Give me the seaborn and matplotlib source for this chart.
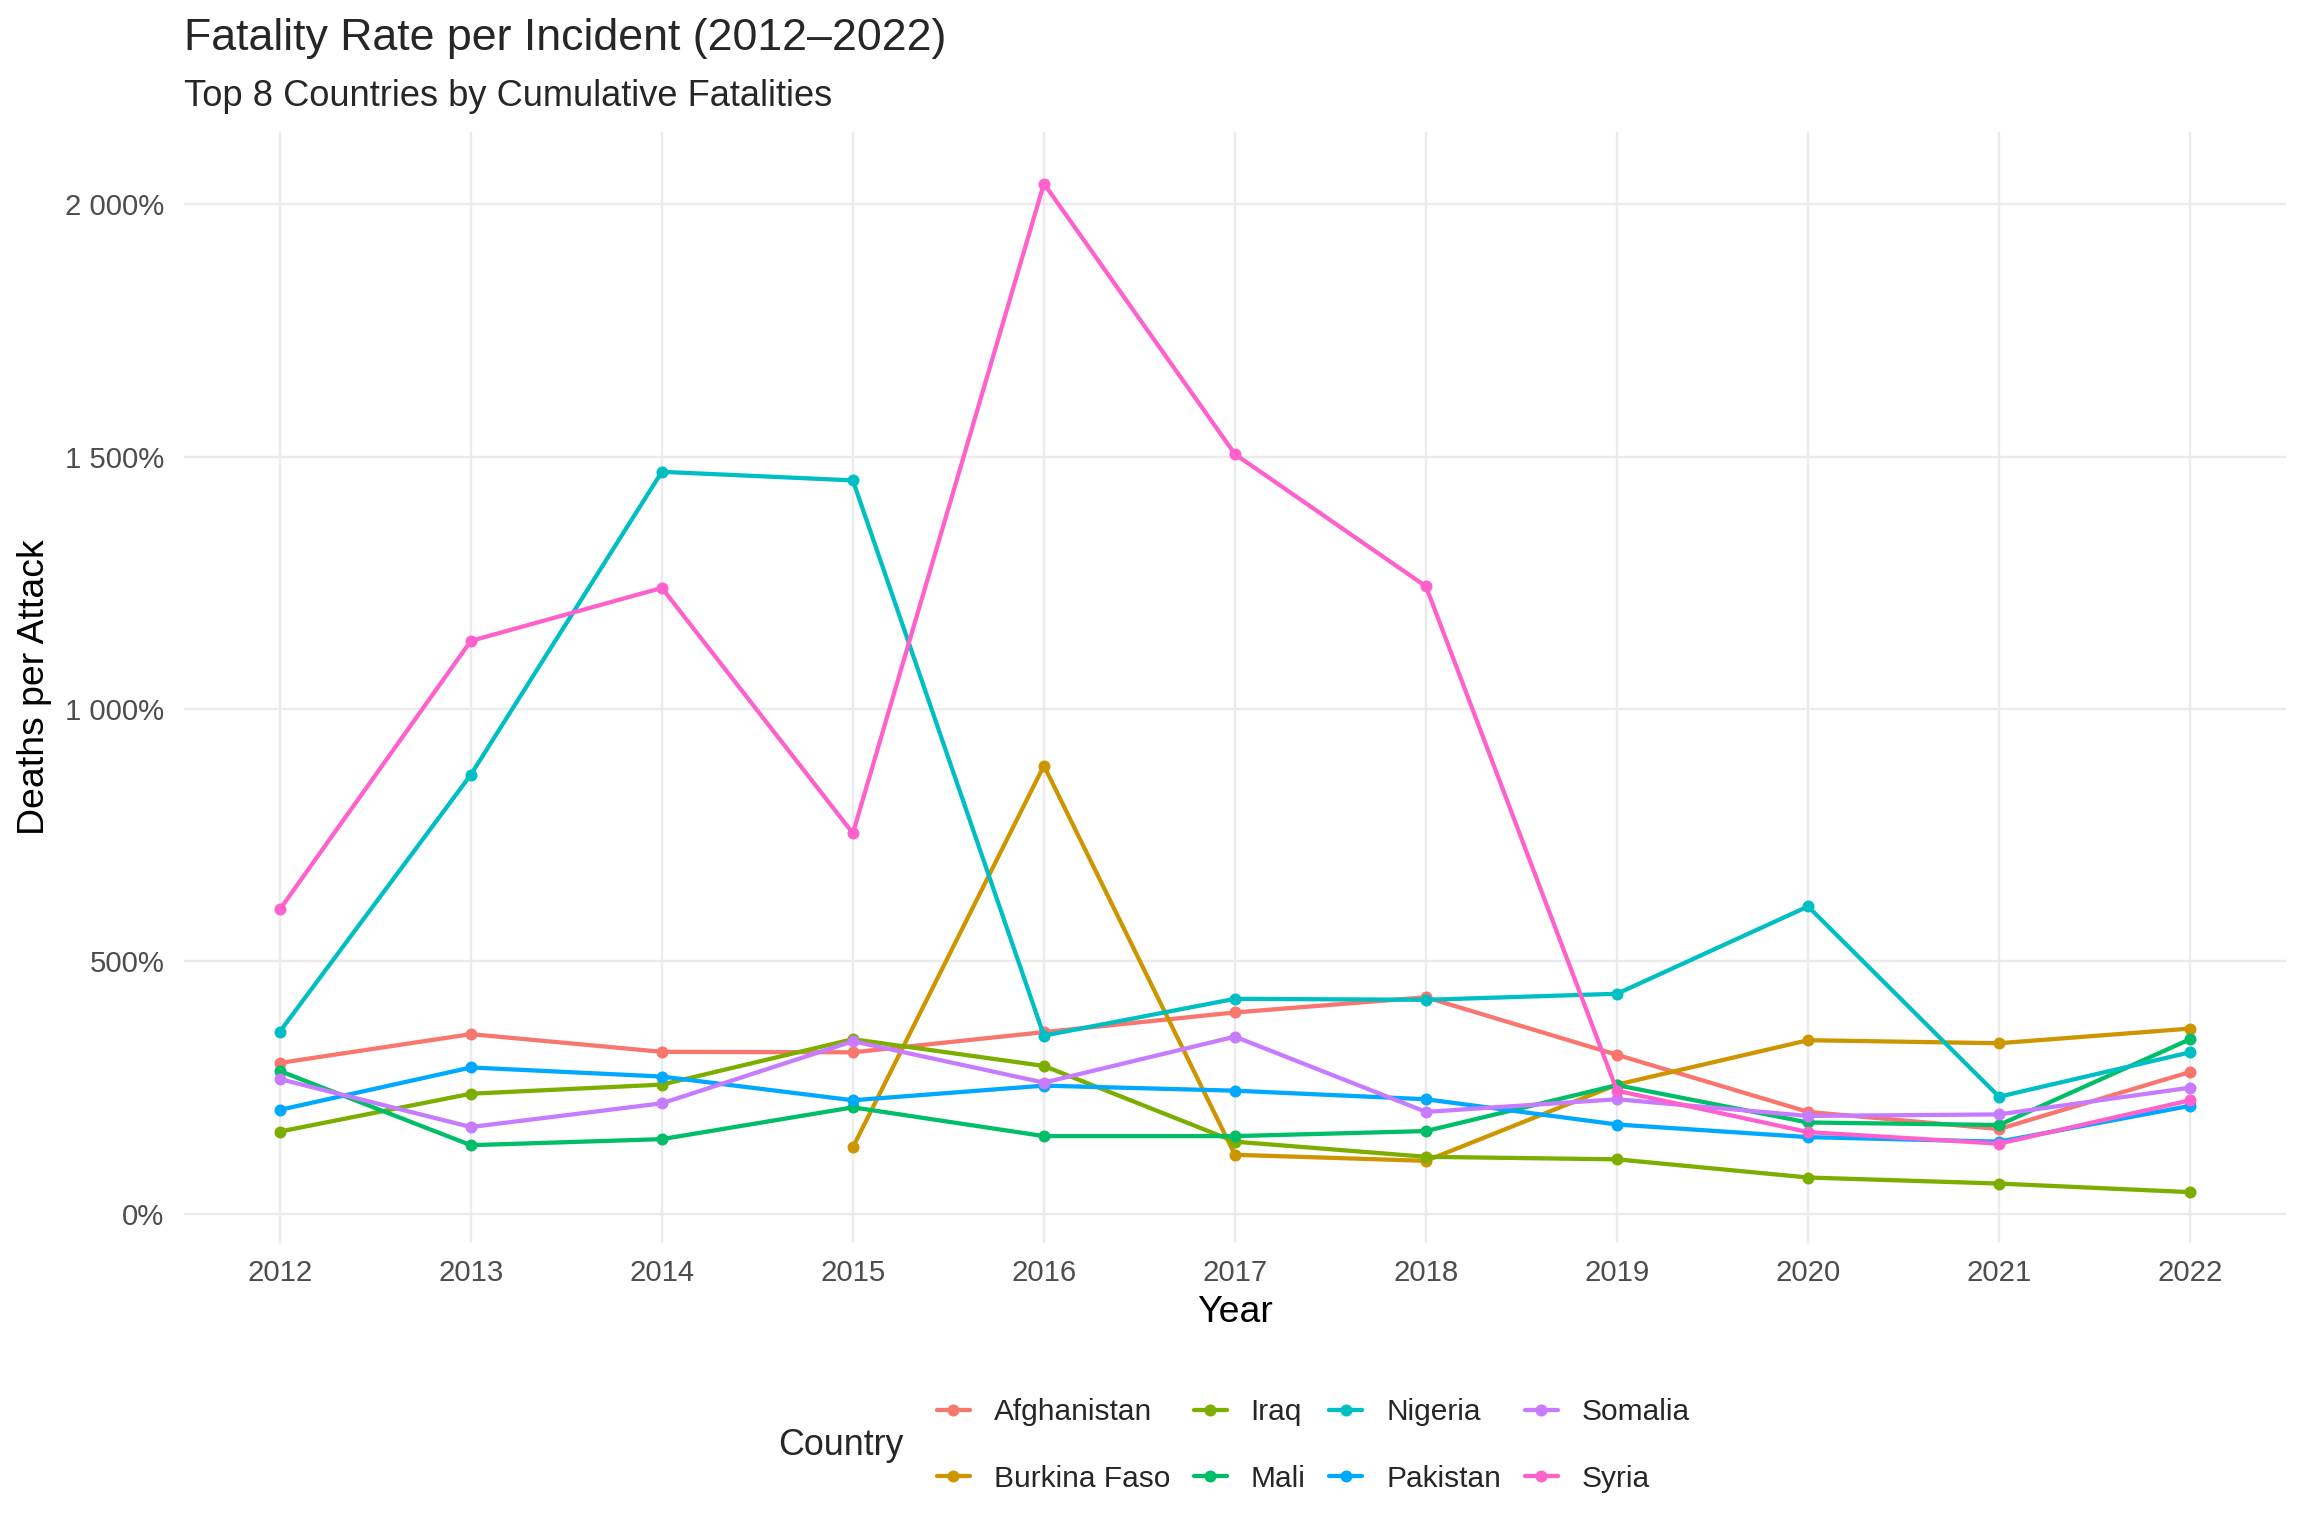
import matplotlib
matplotlib.use('Agg')
import matplotlib.pyplot as plt
from matplotlib.ticker import FuncFormatter
import seaborn as sns
import numpy as np
import pandas as pd

years = list(range(2012, 2023))
countries = ['Afghanistan', 'Burkina Faso', 'Iraq', 'Mali',
             'Nigeria', 'Pakistan', 'Somalia', 'Syria']

# deaths per attack (shown on the axis as percent, like scales::percent)
afghanistan = [2.99, 3.56, 3.21, 3.20, 3.60, 3.99, 4.29, 3.15, 2.02, 1.68, 2.81]
burkina_faso = [np.nan, np.nan, np.nan, 1.32, 8.88, 1.17, 1.05, 2.56, 3.44, 3.38, 3.67]
iraq = [1.63, 2.38, 2.56, 3.46, 2.93, 1.43, 1.13, 1.08, 0.72, 0.60, 0.43]
mali = [2.83, 1.36, 1.48, 2.11, 1.54, 1.54, 1.64, 2.55, 1.81, 1.76, 3.46]
nigeria = [3.61, 8.70, 14.70, 14.53, 3.53, 4.26, 4.24, 4.36, 6.09, 2.32, 3.20]
pakistan = [2.06, 2.90, 2.72, 2.25, 2.54, 2.44, 2.27, 1.77, 1.52, 1.43, 2.14]
somalia = [2.67, 1.72, 2.19, 3.42, 2.60, 3.51, 2.02, 2.27, 1.94, 1.97, 2.50]
syria = [6.03, 11.35, 12.40, 7.54, 20.41, 15.05, 12.43, 2.44, 1.62, 1.39, 2.25]

series = [afghanistan, burkina_faso, iraq, mali, nigeria, pakistan, somalia, syria]
colors = ['#F8766D', '#CD9600', '#7CAE00', '#00BE67',
          '#00BFC4', '#00A9FF', '#C77CFF', '#FF61CC']

df = pd.DataFrame({
    'Year': years * len(countries),
    'Country': np.repeat(countries, len(years)),
    'Rate': np.concatenate(series),
})

sns.set_theme(style='whitegrid')
plt.rcParams['font.family'] = ['Liberation Sans', 'DejaVu Sans']

fig = plt.figure(figsize=(12, 8), dpi=192)
ax = fig.add_axes([0.08, 0.191, 0.912, 0.723])

sns.lineplot(data=df, x='Year', y='Rate', hue='Country', hue_order=countries,
             palette=dict(zip(countries, colors)), marker='o', markersize=4.5,
             markeredgewidth=0, linewidth=1.6, ax=ax)

ax.set_xlim(2011.5, 2022.5)
ax.set_ylim(-0.57, 21.43)
ax.set_xticks(years)
ax.set_yticks([0, 5, 10, 15, 20])

def pct(v, pos):
    s = '{:,.0f}'.format(v * 100).replace(',', ' ')
    return s + '%'

ax.yaxis.set_major_formatter(FuncFormatter(pct))
ax.tick_params(axis='both', labelsize=11, labelcolor='#4D4D4D', length=0)
ax.tick_params(axis='y', pad=7.5)
ax.tick_params(axis='x', pad=6)
ax.grid(True, color='#EBEBEB', linewidth=0.9)
for sp in ax.spines.values():
    sp.set_visible(False)
ax.set_facecolor('white')
ax.set_xlabel('Year', fontsize=14, color='black', labelpad=3)
ax.set_ylabel('Deaths per Attack', fontsize=14, color='black', labelpad=5)

fig.text(0.08, 0.975, 'Fatality Rate per Incident (2012\u20132022)',
         fontsize=16.8, ha='left', va='center')
fig.text(0.08, 0.937, 'Top 8 Countries by Cumulative Fatalities',
         fontsize=13.6, ha='left', va='center')

handles, labels = ax.get_legend_handles_labels()
ax.get_legend().remove()
fig.legend(handles, labels, loc='center', bbox_to_anchor=(0.570, 0.059), ncol=4,
           frameon=False, fontsize=11.2, handlelength=1.1, handletextpad=0.8,
           columnspacing=0.8, labelspacing=1.3)
fig.text(0.365, 0.059, 'Country', fontsize=13.4, ha='center', va='center')

fig.savefig('out.png', dpi=192, facecolor='white')
